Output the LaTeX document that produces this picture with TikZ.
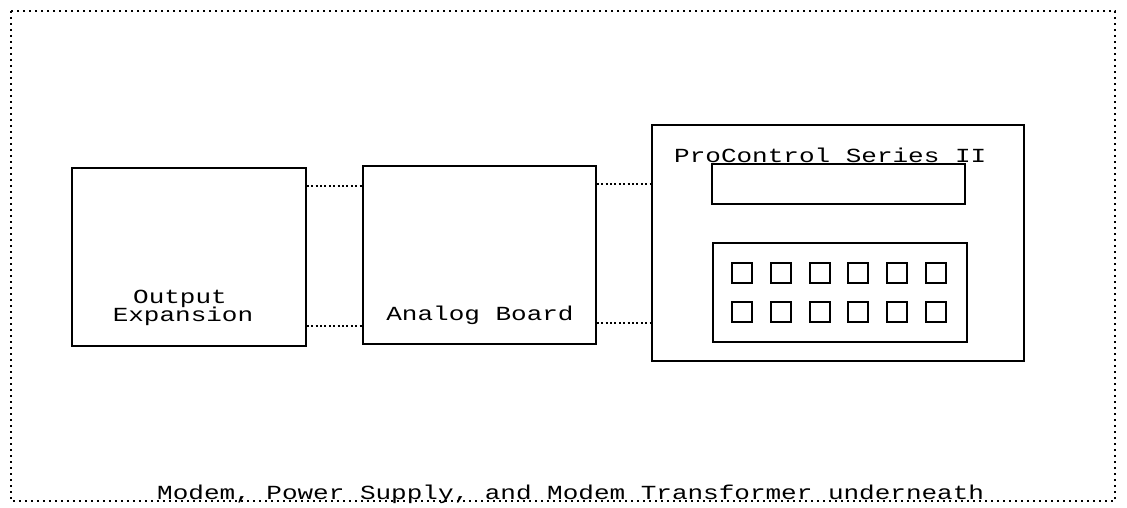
\documentclass[tikz,border=0pt]{standalone}
\usepackage{fontspec}
\newfontfamily\plotfont[FakeStretch=1.3]{Liberation Mono}
\begin{document}
\begin{tikzpicture}[x=1pt,y=-1pt,
  box/.style={draw=black,line width=1.6pt,minimum width=#1,inner sep=0pt},
  btn/.style={draw=black,line width=1.5pt,minimum width=20pt,minimum height=20pt,inner sep=0pt},
  conn/.style={draw=black,line width=2.2pt,dash pattern=on 2pt off 2.4pt},
  border/.style={draw=black,line width=2.2pt,dash pattern=on 2.2pt off 3.8pt},
  lbl/.style={font=\plotfont\fontsize{20}{19}\selectfont,inner sep=0pt,text=black}]
\useasboundingbox (0,0) rectangle (1127,508);
% outer dotted frame
\draw[border] (11,11) rectangle (1115,501);
% boxes
\node[box=234pt,minimum height=178pt] (oe) at (189,257) {};
\node[box=233pt,minimum height=178pt] (ab) at (479.5,255) {};
\node[box=372pt,minimum height=236pt] (pc) at (838,243) {};
\node[box=253pt,minimum height=40pt] (disp) at (838.5,184) {};
\node[box=254pt,minimum height=99pt] (keys) at (840,292.5) {};
% buttons
\foreach \c/\x in {1/742,2/781,3/820,4/858,5/897,6/936}{
  \node[btn] (ba\c) at (\x,273) {};
  \node[btn] (bb\c) at (\x,312) {};
}
% labels
\node[lbl,anchor=base] (oeA) at (180,303) {Output};
\node[lbl,anchor=base] (oeB) at (183,321) {Expansion};
\node[lbl,anchor=base] (abL) at (480,320) {Analog Board};
\node[lbl,anchor=base west] (pcL) at (674,162) {ProControl Series II};
\node[lbl,anchor=base west] (foot) at (157,499) {Modem, Power Supply, and Modem Transformer underneath};
% connectors
\coordinate (c1) at ([yshift=-19pt]oe.north east);
\coordinate (c2) at ([yshift=21pt]oe.south east);
\coordinate (c3) at ([yshift=-19pt]ab.north east);
\coordinate (c4) at ([yshift=22pt]ab.south east);
\draw[conn] (c1) -- (c1 -| ab.west);
\draw[conn] (c2) -- (c2 -| ab.west);
\draw[conn] (c3) -- (c3 -| pc.west);
\draw[conn] (c4) -- (c4 -| pc.west);
\end{tikzpicture}
\end{document}
